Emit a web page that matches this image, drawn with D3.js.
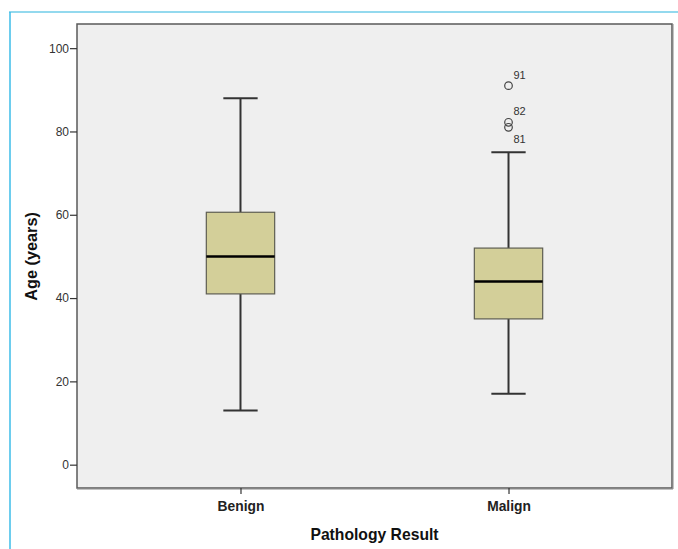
<!DOCTYPE html>
<html><head><meta charset="utf-8">
<script src="https://cdn.jsdelivr.net/npm/d3@7"></script>
<style>body{margin:0;background:#fff;}svg{display:block;font-family:Arial,"Liberation Sans",sans-serif;}</style>
</head><body>
<svg id="c" width="678" height="549"></svg>
<script>
const categories = ["Benign", "Malign"];
const whiskerLow = [13, 17];
const q1 = [41, 35];
const median = [50, 44];
const q3 = [60.6, 52];
const whiskerHigh = [88, 75];
const outlierGroup = ["Malign", "Malign", "Malign"];
const outlierValues = [91, 82.2, 81];
const outlierLabels = ["91", "82", "81"];
const yTicks = [0, 20, 40, 60, 80, 100];

const svg = d3.select("#c");
const L = 77, R = 672, T = 24, B = 488;

// outer frame (light blue)
svg.append("line").attr("x1", 9).attr("x2", 678).attr("y1", 12).attr("y2", 12).attr("stroke", "#6fcde8").attr("stroke-width", 1.5);
svg.append("line").attr("x1", 10).attr("x2", 10).attr("y1", 12).attr("y2", 549).attr("stroke", "#3cbde8").attr("stroke-width", 1.5);

const y = d3.scaleLinear().domain([-5.6, 105.8]).range([B, T]);
const x = d3.scalePoint().domain(categories).range([L, R]).padding(0.61);

// plot background
svg.append("rect").attr("x", L).attr("y", T).attr("width", R - L).attr("height", B - T)
  .attr("fill", "#efefef").attr("stroke", "#5a5a5a").attr("stroke-width", 1.5);
svg.append("line").attr("x1", R + 1).attr("x2", R + 1).attr("y1", T).attr("y2", B + 1).attr("stroke", "#888").attr("stroke-width", 1);
svg.append("line").attr("x1", L).attr("x2", R + 1).attr("y1", B + 1).attr("y2", B + 1).attr("stroke", "#888").attr("stroke-width", 1);

// y axis
const ya = svg.append("g").attr("transform", `translate(${L},0)`)
  .call(d3.axisLeft(y).tickValues(yTicks).tickSize(7).tickSizeOuter(0).tickFormat(d3.format("d")));
ya.select(".domain").remove();
ya.selectAll(".tick line").attr("stroke", "#333").attr("stroke-width", 1.2);
ya.selectAll(".tick text").attr("fill", "#333").attr("font-size", 12).attr("x", -8).attr("font-family", "Arial, Liberation Sans, sans-serif");

// x axis
const xa = svg.append("g").attr("transform", `translate(0,${B})`)
  .call(d3.axisBottom(x).tickSize(6).tickSizeOuter(0));
xa.select(".domain").remove();
xa.selectAll(".tick line").attr("stroke", "#333").attr("stroke-width", 1.2);
xa.selectAll(".tick text").attr("fill", "#222").attr("font-size", 13.8).attr("font-weight", "bold").attr("y", 13).attr("font-family", "Arial, Liberation Sans, sans-serif");

// axis titles
svg.append("text").attr("x", (L + R) / 2).attr("y", 540).attr("text-anchor", "middle")
  .attr("font-size", 15.7).attr("font-weight", "bold").attr("fill", "#111").text("Pathology Result");
svg.append("text").attr("transform", `translate(37,${(y(0) + y(100)) / 2}) rotate(-90)`).attr("text-anchor", "middle")
  .attr("font-size", 16.3).attr("font-weight", "bold").attr("fill", "#111").text("Age (years)");

// boxes
const step = x.step();
const bw = step * 0.255, cw = step * 0.128;
categories.forEach((c, i) => {
  const cx = x(c);
  const g = svg.append("g");
  g.append("line").attr("x1", cx).attr("x2", cx).attr("y1", y(whiskerHigh[i])).attr("y2", y(q3[i])).attr("stroke", "#333").attr("stroke-width", 2);
  g.append("line").attr("x1", cx).attr("x2", cx).attr("y1", y(q1[i])).attr("y2", y(whiskerLow[i])).attr("stroke", "#333").attr("stroke-width", 2);
  g.append("line").attr("x1", cx - cw / 2).attr("x2", cx + cw / 2).attr("y1", y(whiskerHigh[i])).attr("y2", y(whiskerHigh[i])).attr("stroke", "#333").attr("stroke-width", 2);
  g.append("line").attr("x1", cx - cw / 2).attr("x2", cx + cw / 2).attr("y1", y(whiskerLow[i])).attr("y2", y(whiskerLow[i])).attr("stroke", "#333").attr("stroke-width", 2);
  g.append("rect").attr("x", cx - bw / 2).attr("width", bw).attr("y", y(q3[i])).attr("height", y(q1[i]) - y(q3[i]))
    .attr("fill", "#d3cf99").attr("stroke", "#5e5e52").attr("stroke-width", 1.2);
  g.append("line").attr("x1", cx - bw / 2).attr("x2", cx + bw / 2).attr("y1", y(median[i])).attr("y2", y(median[i])).attr("stroke", "#000").attr("stroke-width", 2.5);
});

// outliers
let prevLabelY = -Infinity;
outlierValues.map((v, i) => ({ v, i })).sort((a, b) => b.v - a.v).forEach(({ v, i }) => {
  const cx = x(outlierGroup[i]);
  const cy = y(v);
  svg.append("circle").attr("cx", cx).attr("cy", cy).attr("r", 3.8).attr("fill", "none").attr("stroke", "#444").attr("stroke-width", 1.2);
  let ly = cy - 7;
  if (ly - prevLabelY < 14) ly = cy + 16;
  prevLabelY = ly;
  svg.append("text").attr("x", cx + 5).attr("y", ly).attr("font-size", 11).attr("fill", "#333").text(outlierLabels[i]);
});
</script>
</body></html>
